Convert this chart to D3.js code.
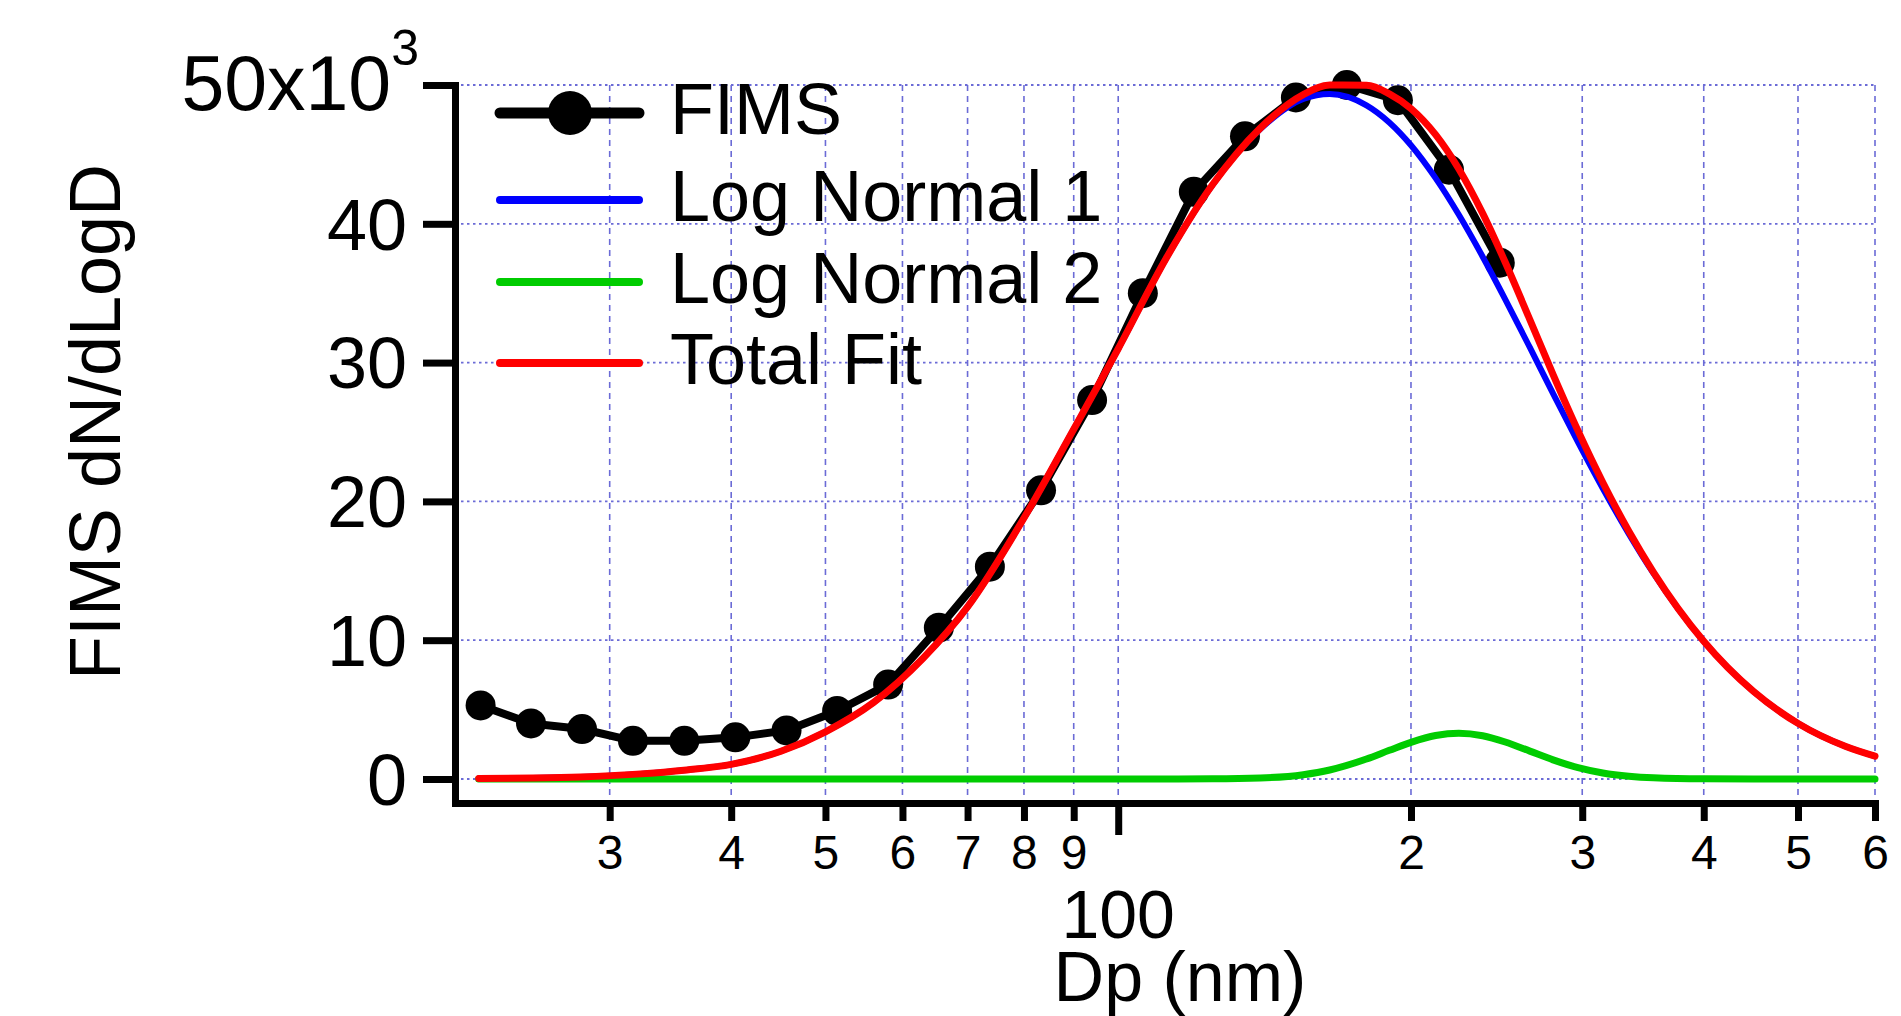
<!DOCTYPE html>
<html>
<head>
<meta charset="utf-8">
<script src="https://cdn.jsdelivr.net/npm/d3@7"></script>
<style>
  body { margin: 0; background: #fff; }
  text { font-family: "Liberation Sans", Arial, sans-serif; fill: #000; }
</style>
</head>
<body>
<script>
// FIMS measured size distribution (nm, dN/dlogD)
const sizes = [22.1, 24.9, 28.1, 31.7, 35.8, 40.4, 45.6, 51.4, 58.0, 65.4, 73.8,
               83.3, 94.0, 106, 119.6, 135, 152.3, 171.8, 193.9, 218.8, 246.8];
const fims = [5300, 4000, 3600, 2750, 2750, 3000, 3500, 4900, 6800, 10900, 15300,
              20800, 27300, 35000, 42300, 46300, 49100, 50000, 48900, 43900, 37200];

const fitSizes = [22, 25, 28, 32, 36, 40, 45, 50, 56, 63, 70, 80, 90, 100, 112,
                  125, 140, 155, 165, 180, 190, 200, 212, 224, 237, 250, 265, 280,
                  297, 315, 335, 355, 400, 450, 500, 560, 600];
const logNormal1 = [30, 70, 150, 350, 650, 1050, 2000, 3400, 5500, 8700, 12400, 18800,
                    25200, 31000, 37500, 42800, 46823, 49000, 49350, 48536, 47300,
                    45659, 43290, 40650, 37630, 34560, 31090, 27760, 24270, 20930,
                    17660, 14830, 9914, 6307, 4007, 2339, 1643];
const logNormal2 = [0, 0, 0, 0, 0, 0, 0, 0, 0, 0, 0, 0, 0, 0, 0,
                    9, 70, 311, 649, 1439, 2064, 2642, 3133, 3300, 3119, 2668, 2009,
                    1376, 817, 431, 194, 81, 9, 0, 0, 0, 0];
const totalFit = [30, 70, 150, 350, 650, 1050, 2000, 3400, 5500, 8700, 12400, 18800,
                  25200, 31000, 37500, 42809, 46893, 49311, 49999, 49975, 49364,
                  48301, 46423, 43950, 40749, 37228, 33099, 29136, 25087, 21361,
                  17854, 14911, 9923, 6307, 4007, 2339, 1643];

const xTicks = [30, 40, 50, 60, 70, 80, 90, 100, 200, 300, 400, 500, 600];
const yTicks = [0, 10000, 20000, 30000, 40000, 50000];
const seriesNames = ["FIMS", "Log Normal 1", "Log Normal 2", "Total Fit"];
const seriesColors = ["#000000", "#0000ff", "#00cc00", "#ff0000"];

let width = 1901, height = 1016;
let gridColor = "#6b6bd6";

let svg = d3.select("body").append("svg")
    .attr("width", width)
    .attr("height", height)
    .style("background", "#fff");

let x = d3.scaleLog().domain([20.8, 600]).range([455, 1875]);
let y = d3.scaleLinear().domain([-1730, 50000]).range([803, 85]);

// grid
svg.append("g").selectAll("line")
    .data(xTicks)
    .join("line")
        .attr("x1", d => x(d)).attr("x2", d => x(d))
        .attr("y1", y(50000)).attr("y2", y.range()[0])
        .attr("stroke", gridColor)
        .attr("stroke-width", 1.6)
        .attr("stroke-dasharray", "6,5");
svg.append("g").selectAll("line")
    .data(yTicks)
    .join("line")
        .attr("x1", x.range()[0]).attr("x2", x.range()[1])
        .attr("y1", d => y(d)).attr("y2", d => y(d))
        .attr("stroke", gridColor)
        .attr("stroke-width", 1.8)
        .attr("stroke-dasharray", "2.5,3.5");

// curves
let fitLine = d3.line()
    .x(d => x(d[0]))
    .y(d => y(d[1]))
    .curve(d3.curveMonotoneX);

let fimsPts = sizes.map((s, i) => [s, fims[i]]);
svg.append("path")
    .attr("d", d3.line().x(d => x(d[0])).y(d => y(d[1]))(fimsPts))
    .attr("fill", "none")
    .attr("stroke", seriesColors[0])
    .attr("stroke-width", 8)
    .attr("stroke-linejoin", "round");
svg.append("g").selectAll("circle")
    .data(fimsPts)
    .join("circle")
        .attr("cx", d => x(d[0]))
        .attr("cy", d => y(d[1]))
        .attr("r", 15)
        .attr("fill", seriesColors[0]);

[logNormal1, logNormal2, totalFit].forEach((vals, k) => {
    svg.append("path")
        .attr("d", fitLine(fitSizes.map((s, i) => [s, vals[i]])))
        .attr("fill", "none")
        .attr("stroke", seriesColors[k + 1])
        .attr("stroke-width", k == 0 ? 6 : 7)
        .attr("stroke-linecap", "round")
        .attr("stroke-linejoin", "round");
});

// y axis
let gy = svg.append("g")
    .attr("transform", "translate(455,0)")
    .call(d3.axisLeft(y).tickValues(yTicks).tickSize(32).tickSizeOuter(0).tickPadding(16)
        .tickFormat(d => d === 50000 ? "" : d / 1000));
gy.attr("font-family", null).attr("font-size", null);
gy.select(".domain").attr("stroke", "#000").attr("stroke-width", 7).attr("stroke-linecap", "square");
gy.selectAll(".tick line").attr("stroke", "#000").attr("stroke-width", 7);
gy.selectAll(".tick text").style("font-size", "72px").attr("dy", "0.35em");

let topLabel = svg.append("text")
    .attr("x", 419)
    .attr("y", y(50000) + 25)
    .attr("text-anchor", "end")
    .style("font-size", "77px");
topLabel.append("tspan").text("50x10");
topLabel.append("tspan").attr("dy", -45).style("font-size", "50px").text("3");

// x axis
let gx = svg.append("g")
    .attr("transform", "translate(0,803)")
    .call(d3.axisBottom(x).tickValues(xTicks).tickSize(18).tickSizeOuter(0).tickPadding(14)
        .tickFormat(d => d === 100 ? "" : String(d).charAt(0)));
gx.attr("font-family", null).attr("font-size", null);
gx.select(".domain").attr("stroke", "#000").attr("stroke-width", 7).attr("stroke-linecap", "square");
gx.selectAll(".tick line").attr("stroke", "#000").attr("stroke-width", 7)
    .attr("y2", d => d === 100 ? 32 : 18);
gx.selectAll(".tick text").style("font-size", "48px");

svg.append("text")
    .attr("x", x(100))
    .attr("y", 938)
    .attr("text-anchor", "middle")
    .style("font-size", "68px")
    .text("100");

svg.append("text")
    .attr("x", 1180)
    .attr("y", 1001)
    .attr("text-anchor", "middle")
    .style("font-size", "70px")
    .text("Dp (nm)");

svg.append("text")
    .attr("transform", "translate(120,422) rotate(-90)")
    .attr("text-anchor", "middle")
    .style("font-size", "72px")
    .text("FIMS dN/dLogD");

// legend
let legendY = [113, 200, 282, 363];
let legend = svg.append("g").selectAll("g")
    .data(seriesNames)
    .join("g")
        .attr("transform", (d, i) => `translate(0,${legendY[i]})`);
legend.append("line")
    .attr("x1", 500).attr("x2", 639)
    .attr("stroke", (d, i) => seriesColors[i])
    .attr("stroke-width", (d, i) => i == 0 ? 11 : 8)
    .attr("stroke-linecap", "round");
legend.filter((d, i) => i == 0).append("circle")
    .attr("cx", 570)
    .attr("r", 22)
    .attr("fill", "#000");
legend.append("text")
    .attr("x", 670)
    .attr("y", 21)
    .style("font-size", "72px")
    .text(d => d);
</script>
</body>
</html>
